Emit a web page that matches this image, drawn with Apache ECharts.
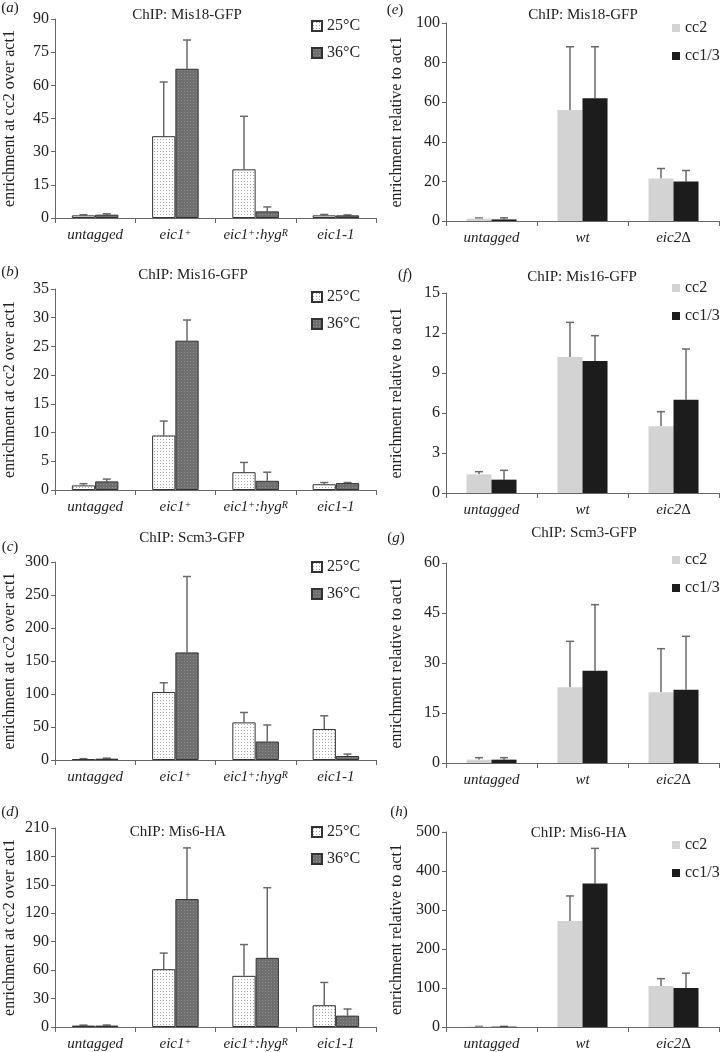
<!DOCTYPE html>
<html>
<head>
<meta charset="utf-8">
<script src="https://cdn.jsdelivr.net/npm/echarts@6/dist/echarts.min.js"></script>
<style>
  html, body { margin: 0; padding: 0; background: #fff; }
  #chart { width: 720px; height: 1052px; }
</style>
</head>
<body>
<div id="chart"></div>
<script>
// categories
const catLeft = ['untagged', 'eic1+', 'eic1+:hygR', 'eic1-1'];
const catRight = ['untagged', 'wt', 'eic2Δ'];

// (a) Mis18-GFP, temperature
const mis18_25 = [1.2, 37, 22, 1.2];
const mis18_25Err = [0.3, 24.5, 24, 0.4];
const mis18_36 = [1.5, 67.5, 3, 1.2];
const mis18_36Err = [0.4, 13, 2, 0.2];
// (b) Mis16-GFP
const mis16_25 = [0.8, 9.5, 3.1, 1.0];
const mis16_25Err = [0.3, 2.5, 1.7, 0.3];
const mis16_36 = [1.5, 26, 1.6, 1.2];
const mis16_36Err = [0.4, 3.6, 1.5, 0.1];
// (c) Scm3-GFP
const scm3_25 = [1.5, 103, 57, 47];
const scm3_25Err = [0.5, 14, 15, 20];
const scm3_36 = [2, 163, 28, 6];
const scm3_36Err = [0.8, 115, 25, 3];
// (d) Mis6-HA
const mis6_25 = [1.5, 61, 54, 23];
const mis6_25Err = [0.5, 17, 33, 24];
const mis6_36 = [1.5, 135, 73, 12];
const mis6_36Err = [0.6, 54, 74, 7];

// (e) Mis18-GFP, cc2 vs cc1/3
const mis18_cc2 = [1.2, 56, 21.5];
const mis18_cc2Err = [0.3, 32, 5];
const mis18_cc13 = [0.8, 62, 20];
const mis18_cc13Err = [0.8, 26, 5.5];
// (f) Mis16-GFP
const mis16_cc2 = [1.4, 10.2, 5.0];
const mis16_cc2Err = [0.2, 2.6, 1.1];
const mis16_cc13 = [1.0, 9.9, 7.0];
const mis16_cc13Err = [0.7, 1.9, 3.8];
// (g) Scm3-GFP
const scm3_cc2 = [1.0, 22.7, 21.2];
const scm3_cc2Err = [0.6, 13.8, 13.1];
const scm3_cc13 = [1.0, 27.7, 22];
const scm3_cc13Err = [0.6, 19.8, 16];
// (h) Mis6-HA
const mis6_cc2 = [1, 272, 105];
const mis6_cc2Err = [0.5, 64, 19];
const mis6_cc13 = [1, 368, 100];
const mis6_cc13Err = [0.5, 90, 38];

// y axis max / interval per panel
const yMax = [90, 35, 300, 210, 100, 15, 60, 500];
const yStep = [15, 5, 50, 30, 20, 3, 15, 100];

const FONT = '"Liberation Serif", "DejaVu Serif", serif';
const TXT = '#222';

function makePattern(bg, dot) {
  const c = document.createElement('canvas');
  c.width = 3; c.height = 3;
  const ctx = c.getContext('2d');
  ctx.fillStyle = bg;
  ctx.fillRect(0, 0, 3, 3);
  ctx.fillStyle = dot;
  ctx.fillRect(1, 1, 1, 1);
  return { image: c, repeat: 'repeat' };
}
const pat25 = makePattern('#ffffff', '#a8a8a8');
const pat36 = makePattern('#6f6f6f', '#8e8e8e');

const panels = [
  { key: 'a', title: 'ChIP: Mis18-GFP', left: true, s1: mis18_25, e1: mis18_25Err, s2: mis18_36, e2: mis18_36Err },
  { key: 'b', title: 'ChIP: Mis16-GFP', left: true, s1: mis16_25, e1: mis16_25Err, s2: mis16_36, e2: mis16_36Err },
  { key: 'c', title: 'ChIP: Scm3-GFP', left: true, s1: scm3_25, e1: scm3_25Err, s2: scm3_36, e2: scm3_36Err },
  { key: 'd', title: 'ChIP: Mis6-HA', left: true, s1: mis6_25, e1: mis6_25Err, s2: mis6_36, e2: mis6_36Err },
  { key: 'e', title: 'ChIP: Mis18-GFP', left: false, s1: mis18_cc2, e1: mis18_cc2Err, s2: mis18_cc13, e2: mis18_cc13Err },
  { key: 'f', title: 'ChIP: Mis16-GFP', left: false, s1: mis16_cc2, e1: mis16_cc2Err, s2: mis16_cc13, e2: mis16_cc13Err },
  { key: 'g', title: 'ChIP: Scm3-GFP', left: false, s1: scm3_cc2, e1: scm3_cc2Err, s2: scm3_cc13, e2: scm3_cc13Err },
  { key: 'h', title: 'ChIP: Mis6-HA', left: false, s1: mis6_cc2, e1: mis6_cc2Err, s2: mis6_cc13, e2: mis6_cc13Err }
];

// layout: grid top/bottom, title pos, legend top, panel label pos
const layout = [
  { top: 19, bottom: 218, tx: 187, ty: 15, lg: 18, lx: 10, ly: 8 },
  { top: 289, bottom: 490, tx: 193, ty: 275, lg: 289, lx: 10, ly: 272 },
  { top: 562, bottom: 760, tx: 192, ty: 538, lg: 559, lx: 10, ly: 547 },
  { top: 828, bottom: 1027, tx: 178, ty: 832, lg: 824, lx: 10, ly: 812 },
  { top: 23, bottom: 221, tx: 583, ty: 15, lg: 20, lx: 395, ly: 10 },
  { top: 293, bottom: 493, tx: 582, ty: 277, lg: 280, lx: 405, ly: 275 },
  { top: 563, bottom: 763, tx: 584, ty: 533, lg: 552, lx: 396, ly: 538 },
  { top: 832, bottom: 1029, tx: 579, ty: 833, lg: 837, lx: 399, ly: 812 }
];

const grid = [], xAxis = [], yAxis = [], series = [], legend = [], graphic = [];

function errItem(gap, side) {
  return function (params, api) {
    const idx = api.value(0);
    const v = api.value(1);
    const e = api.value(2);
    const cw = api.size([1, 0])[0];
    const bw = cw * (1 - gap) / 2;
    const cx = api.coord([idx, 0])[0] + side * bw / 2;
    const y0 = api.coord([idx, v])[1];
    const y1 = api.coord([idx, v + e])[1];
    const st = { stroke: '#6a6a6a', lineWidth: 1.5 };
    return {
      type: 'group',
      children: [
        { type: 'line', shape: { x1: cx, y1: y0, x2: cx, y2: y1 }, style: st },
        { type: 'line', shape: { x1: cx - 4, y1: y1, x2: cx + 4, y2: y1 }, style: st }
      ]
    };
  };
}

panels.forEach((p, i) => {
  const L = layout[i];
  const cats = p.left ? catLeft : catRight;
  const gap = p.left ? 0.42 : 0.45;
  grid.push({
    left: p.left ? 55 : 446,
    width: p.left ? 321 : 273,
    top: L.top,
    height: L.bottom - L.top
  });
  xAxis.push({
    type: 'category',
    gridIndex: i,
    data: cats,
    axisLine: { lineStyle: { color: '#666', width: 1 } },
    axisTick: { show: true, length: 5, lineStyle: { color: '#666' } },
    axisLabel: {
      interval: 0,
      hideOverlap: false,
      margin: 10,
      fontFamily: FONT,
      fontSize: 15,
      fontStyle: 'italic',
      color: TXT,
      formatter: v => v.replace('+', '{s|+}').replace('hygR', 'hyg{s|R}').replace('Δ', '{u|Δ}'),
      rich: {
        s: { fontFamily: FONT, fontSize: 10, fontStyle: 'italic', color: TXT, verticalAlign: 'top' },
        u: { fontFamily: FONT, fontSize: 15, fontStyle: 'normal', color: TXT }
      }
    }
  });
  yAxis.push({
    type: 'value',
    gridIndex: i,
    min: 0,
    max: yMax[i],
    interval: yStep[i],
    name: p.left ? 'enrichment at cc2 over act1' : 'enrichment relative to act1',
    nameLocation: 'middle',
    nameGap: p.left ? 37 : 41,
    nameTextStyle: { fontFamily: FONT, fontSize: 16, color: TXT },
    axisLine: { show: true, lineStyle: { color: '#666', width: 1 } },
    axisTick: { show: true, length: 4, lineStyle: { color: '#666' } },
    splitLine: { show: false },
    axisLabel: { fontFamily: FONT, fontSize: 16, color: TXT, margin: 6 }
  });
  const n1 = p.left ? '25°C' : 'cc2';
  const n2 = p.left ? '36°C' : 'cc1/3';
  const st1 = p.left
    ? { color: pat25, borderColor: '#333', borderWidth: 1 }
    : { color: '#d3d3d3' };
  const st2 = p.left
    ? { color: pat36, borderColor: '#333', borderWidth: 1 }
    : { color: '#1c1c1c' };
  series.push({
    name: n1, type: 'bar', xAxisIndex: i, yAxisIndex: i,
    data: p.s1, barGap: 0, barCategoryGap: (gap * 100) + '%',
    itemStyle: st1, silent: true
  });
  series.push({
    name: n2, type: 'bar', xAxisIndex: i, yAxisIndex: i,
    data: p.s2, barGap: 0, barCategoryGap: (gap * 100) + '%',
    itemStyle: st2, silent: true
  });
  series.push({
    name: 'err' + i + 'a', type: 'custom', xAxisIndex: i, yAxisIndex: i,
    data: p.s1.map((v, k) => [k, v, p.e1[k]]),
    renderItem: errItem(gap, -1), z: 1, silent: true
  });
  series.push({
    name: 'err' + i + 'b', type: 'custom', xAxisIndex: i, yAxisIndex: i,
    data: p.s2.map((v, k) => [k, v, p.e2[k]]),
    renderItem: errItem(gap, 1), z: 1, silent: true
  });
  legend.push({
    data: [n1, n2],
    orient: 'vertical',
    left: p.left ? 311 : 672,
    top: L.lg,
    padding: 0,
    itemGap: p.left ? 11 : 12,
    itemWidth: p.left ? 10 : 8,
    itemHeight: p.left ? 10 : 8,
    icon: 'rect',
    selectedMode: false,
    textStyle: { fontFamily: FONT, fontSize: 16, color: TXT }
  });
  graphic.push({
    type: 'text', x: L.tx, y: L.ty,
    style: { text: p.title, font: '15px ' + FONT, fill: TXT, textAlign: 'center', textVerticalAlign: 'middle' }
  });
  graphic.push({
    type: 'text', x: L.lx, y: L.ly,
    style: {
      text: '({i|' + p.key + '})', font: '15px ' + FONT, fill: TXT,
      textAlign: 'center', textVerticalAlign: 'middle',
      rich: { i: { fontFamily: FONT, fontSize: 15, fontStyle: 'italic', fill: TXT } }
    }
  });
});

const chart = echarts.init(document.getElementById('chart'));
chart.setOption({
  animation: false,
  grid: grid,
  xAxis: xAxis,
  yAxis: yAxis,
  legend: legend,
  graphic: graphic,
  series: series
});
</script>
</body>
</html>
